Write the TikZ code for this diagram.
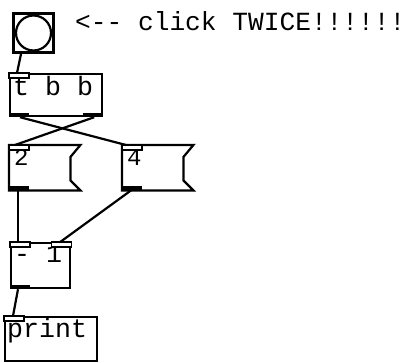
\documentclass[tikz,border=0pt]{standalone}
\usepackage{fontspec}
\setmonofont{Liberation Mono}
\usetikzlibrary{calc}
\tikzset{
  pdbox/.style={draw, line width=2.2pt, rectangle, inner sep=0pt, anchor=north west},
  numbox/.style={rectangle, inner sep=0pt, anchor=north west, minimum width=71pt, minimum height=45pt},
  pdtext/.style={font=\ttfamily\fontsize{26.6}{30}\selectfont, inner sep=0pt, anchor=base west},
  numtext/.style={font=\ttfamily\fontsize{24}{28}\selectfont, inner sep=0pt, anchor=base west},
  inlet/.style={draw, line width=1.2pt, fill=white},
  wire/.style={line width=2.2pt}
}

\begin{document}
\begin{tikzpicture}[x=1pt, y=-1pt]
    \useasboundingbox (0,0) rectangle (406,362);
    % bang and hint
    \node[pdbox, line width=3pt, minimum width=40pt, minimum height=39pt] (bng) at (12,12) {};
    \draw[line width=2.2pt] (bng.center) circle (17.5pt);
    \node[pdtext, font=\ttfamily\fontsize{26.2}{30}\selectfont] (hint) at (75,30) {<-{}- click TWICE!!!!!!};
    % trigger
    \node[pdbox, minimum width=92pt, minimum height=42pt] (tbb) at (9,73) {};
    \node[pdtext] (tbbtxt) at ($(tbb.north west)+(4,22)$) {t b b};
    \draw[inlet] (tbb.north west) rectangle ++(20,5);
    \fill (tbb.south west) rectangle ++(20,-4);
    \fill (tbb.south east) rectangle ++(-20,-4);
    % number boxes
    \node[numbox] (two) at (9,145) {};
    \node[numbox] (four) at (122,145) {};
    \foreach \n/\v in {two/2, four/4} {
        \draw[line width=2.2pt] (\n.north west) -- (\n.north east) -- ($(\n.north east)+(-10,12)$)
            -- ($(\n.south east)+(-10,-10)$) -- (\n.south east) -- (\n.south west) -- cycle;
        \node[numtext] (\n txt) at ($(\n.north west)+(5,20)$) {\v};
        \draw[inlet] (\n.north west) rectangle ++(20,5);
        \fill (\n.south west) rectangle ++(20,-4);
    }
    % subtract
    \node[pdbox, minimum width=59pt, minimum height=45pt] (minus) at (10,242) {};
    \node[pdtext] (minustxt) at ($(minus.north west)+(4,20)$) {- 1};
    \draw[inlet] (minus.north west) rectangle ++(20,5);
    \draw[inlet] (minus.north east) rectangle ++(-20,5);
    \fill (minus.south west) rectangle ++(20,-4);
    % print
    \node[pdbox, minimum width=92pt, minimum height=44pt] (print) at (4,316) {};
    \node[pdtext] (printtxt) at ($(print.north west)+(3,21)$) {print};
    \draw[inlet] (print.north west) rectangle ++(20,5);
    % wire ends
    \coordinate (bngo) at ($(bng.south west)+(9,0)$);
    \coordinate (tbbi) at ($(tbb.north west)+(8,0)$);
    \coordinate (tbbo1) at ($(tbb.south west)+(11,0)$);
    \coordinate (tbbo2) at ($(tbb.south east)+(-9,0)$);
    \coordinate (twoi) at ($(two.north west)+(6,0)$);
    \coordinate (fouri) at ($(four.north west)+(4,0)$);
    \coordinate (twoo) at ($(two.south west)+(9,0)$);
    \coordinate (fouro) at ($(four.south west)+(9,0)$);
    \coordinate (minusi1) at ($(minus.north west)+(8,0)$);
    \coordinate (minusi2) at ($(minus.north east)+(-11,0)$);
    \coordinate (minuso) at ($(minus.south west)+(8,0)$);
    \coordinate (printi) at ($(print.north west)+(9,0)$);
    % wires
    \draw[wire] (bngo) -- (tbbi);
    \draw[wire] (tbbo1) -- (fouri);
    \draw[wire] (tbbo2) -- (twoi);
    \draw[wire] (twoo) -- (minusi1);
    \draw[wire] (fouro) -- (minusi2);
    \draw[wire] (minuso) -- (printi);
\end{tikzpicture}
\end{document}
